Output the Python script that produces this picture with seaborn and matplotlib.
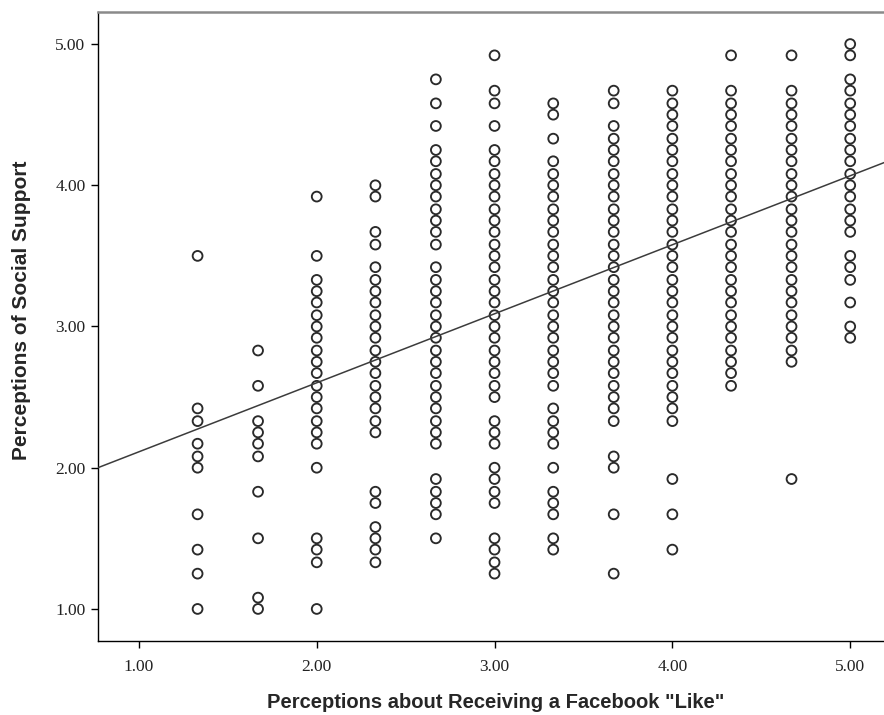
import matplotlib
matplotlib.use("Agg")
import matplotlib.pyplot as plt
import seaborn as sns
import pandas as pd

# ---- data ----
x_levels = [1.33, 1.67, 2.00, 2.33, 2.67, 3.00, 3.33, 3.67, 4.00, 4.33, 4.67, 5.00]

col_133 = [3.50, 2.42, 2.33, 2.17, 2.08, 2.00, 1.67, 1.42, 1.25, 1.00]
col_167 = [2.83, 2.58, 2.33, 2.25, 2.17, 2.08, 1.83, 1.50, 1.08, 1.00]
col_200 = [3.92, 3.50, 3.33, 3.25, 3.17, 3.08, 3.00, 2.92, 2.83, 2.75, 2.67, 2.58,
           2.50, 2.42, 2.33, 2.25, 2.17, 2.00, 1.50, 1.42, 1.33, 1.00]
col_233 = [4.00, 3.92, 3.67, 3.58, 3.42, 3.33, 3.25, 3.17, 3.08, 3.00, 2.92, 2.83,
           2.75, 2.67, 2.58, 2.50, 2.42, 2.33, 2.25, 1.83, 1.75, 1.58, 1.50, 1.42, 1.33]
col_267 = [4.75, 4.58, 4.42, 4.25, 4.17, 4.08, 4.00, 3.92, 3.83, 3.75, 3.67, 3.58,
           3.42, 3.33, 3.25, 3.17, 3.08, 3.00, 2.92, 2.83, 2.75, 2.67, 2.58, 2.50,
           2.42, 2.33, 2.25, 2.17, 1.92, 1.83, 1.75, 1.67, 1.50]
col_300 = [4.92, 4.67, 4.58, 4.42, 4.25, 4.17, 4.08, 4.00, 3.92, 3.83, 3.75, 3.67,
           3.58, 3.50, 3.42, 3.33, 3.25, 3.17, 3.08, 3.00, 2.92, 2.83, 2.75, 2.67,
           2.58, 2.50, 2.33, 2.25, 2.17, 2.00, 1.92, 1.83, 1.75, 1.50, 1.42, 1.33, 1.25]
col_333 = [4.58, 4.50, 4.33, 4.17, 4.08, 4.00, 3.92, 3.83, 3.75, 3.67, 3.58, 3.50,
           3.42, 3.33, 3.25, 3.17, 3.08, 3.00, 2.92, 2.83, 2.75, 2.67, 2.58, 2.42,
           2.33, 2.25, 2.17, 2.00, 1.83, 1.75, 1.67, 1.50, 1.42]
col_367 = [4.67, 4.58, 4.42, 4.33, 4.25, 4.17, 4.08, 4.00, 3.92, 3.83, 3.75, 3.67,
           3.58, 3.50, 3.42, 3.33, 3.25, 3.17, 3.08, 3.00, 2.92, 2.83, 2.75, 2.67,
           2.58, 2.50, 2.42, 2.33, 2.08, 2.00, 1.67, 1.25]
col_400 = [4.67, 4.58, 4.50, 4.42, 4.33, 4.25, 4.17, 4.08, 4.00, 3.92, 3.83, 3.75,
           3.67, 3.58, 3.50, 3.42, 3.33, 3.25, 3.17, 3.08, 3.00, 2.92, 2.83, 2.75,
           2.67, 2.58, 2.50, 2.42, 2.33, 1.92, 1.67, 1.42]
col_433 = [4.92, 4.67, 4.58, 4.50, 4.42, 4.33, 4.25, 4.17, 4.08, 4.00, 3.92, 3.83,
           3.75, 3.67, 3.58, 3.50, 3.42, 3.33, 3.25, 3.17, 3.08, 3.00, 2.92, 2.83,
           2.75, 2.67, 2.58]
col_467 = [4.92, 4.67, 4.58, 4.50, 4.42, 4.33, 4.25, 4.17, 4.08, 4.00, 3.92, 3.83,
           3.75, 3.67, 3.58, 3.50, 3.42, 3.33, 3.25, 3.17, 3.08, 3.00, 2.92, 2.83,
           2.75, 1.92]
col_500 = [5.00, 4.92, 4.75, 4.67, 4.58, 4.50, 4.42, 4.33, 4.25, 4.17, 4.08, 4.00,
           3.92, 3.83, 3.75, 3.67, 3.50, 3.42, 3.33, 3.17, 3.00, 2.92]

columns = [col_133, col_167, col_200, col_233, col_267, col_300,
           col_333, col_367, col_400, col_433, col_467, col_500]

# fitted line
fit_intercept = 1.624
fit_slope = 0.4887

tick_values = [1, 2, 3, 4, 5]
tick_labels = ["1.00", "2.00", "3.00", "4.00", "5.00"]

x_title = 'Perceptions about Receiving a Facebook "Like"'
y_title = "Perceptions of Social Support"

# ---- build table ----
rows = []
for xv, col in zip(x_levels, columns):
    for yv in col:
        rows.append((xv, yv))
df = pd.DataFrame(rows, columns=["like", "support"])

sns.set_style("white")
fig = plt.figure(figsize=(8.84, 7.15), dpi=100)
ax = fig.add_axes([98 / 884, 1 - 641 / 715, 1 - 98 / 884 + 0.01, (641 - 12) / 715])

sns.scatterplot(data=df, x="like", y="support", ax=ax, marker="o", s=50,
                facecolor="none", edgecolor="#2a2a2a", linewidth=1.35, zorder=3)

ax.axline((0, fit_intercept), slope=fit_slope, color="#3c3c3c", lw=1.1, zorder=4)

ax.set_xlim(0.77, 5.19 + 0.01 * 884 / 786 * 4.42)
ax.set_ylim(0.773, 5.227)

ax.set_xticks(tick_values)
ax.set_xticklabels(tick_labels)
ax.set_yticks(tick_values)
ax.set_yticklabels(tick_labels)

for lab in ax.get_xticklabels() + ax.get_yticklabels():
    lab.set_fontfamily("Liberation Serif")
    lab.set_fontsize(12.5)
    lab.set_color("#222222")

ax.tick_params(axis="both", direction="out", length=5, width=1, color="black",
               bottom=True, left=True, pad=4)
ax.tick_params(axis="x", pad=8)

ax.set_xlabel(x_title, fontfamily="Liberation Sans", fontweight="bold",
              fontsize=14.5, labelpad=13)
ax.set_ylabel(y_title, fontfamily="Liberation Sans", fontweight="bold",
              fontsize=15)
ax.yaxis.set_label_coords(-0.084, 0.526)

for side in ["left", "bottom"]:
    ax.spines[side].set_color("black")
    ax.spines[side].set_linewidth(1.0)
ax.spines["top"].set_color("#8a8a8a")
ax.spines["top"].set_linewidth(1.8)
ax.spines["right"].set_visible(False)

fig.savefig("out.png", dpi=100)
